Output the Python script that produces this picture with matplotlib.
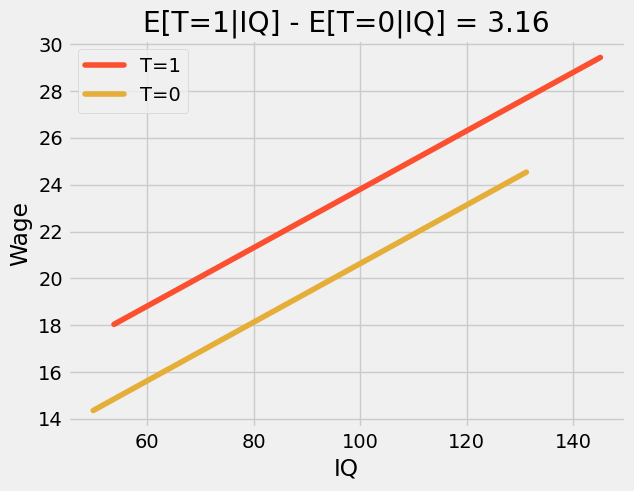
import matplotlib
matplotlib.use('Agg')
import matplotlib.pyplot as plt
import numpy as np

plt.style.use('fivethirtyeight')

# predicted wage lines (endpoints)
iq_t1 = np.array([53.8, 145.1])
wage_t1 = np.array([18.04, 29.44])
iq_t0 = np.array([49.9, 131.2])
wage_t0 = np.array([14.36, 24.54])
ate = 3.16

fig, ax = plt.subplots(figsize=(6.34, 4.91), dpi=100)
fig.subplots_adjust(left=0.107, right=0.987, bottom=0.128, top=0.919)

ax.plot(iq_t1, wage_t1, color='C1', label='T=1', solid_capstyle='round')
ax.plot(iq_t0, wage_t0, color='C2', label='T=0', solid_capstyle='round')
ax.set_xlabel('IQ')
ax.set_ylabel('Wage')
ax.set_title('E[T=1|IQ] - E[T=0|IQ] = %.2f' % ate)
ax.legend()

fig.savefig('out.png')
